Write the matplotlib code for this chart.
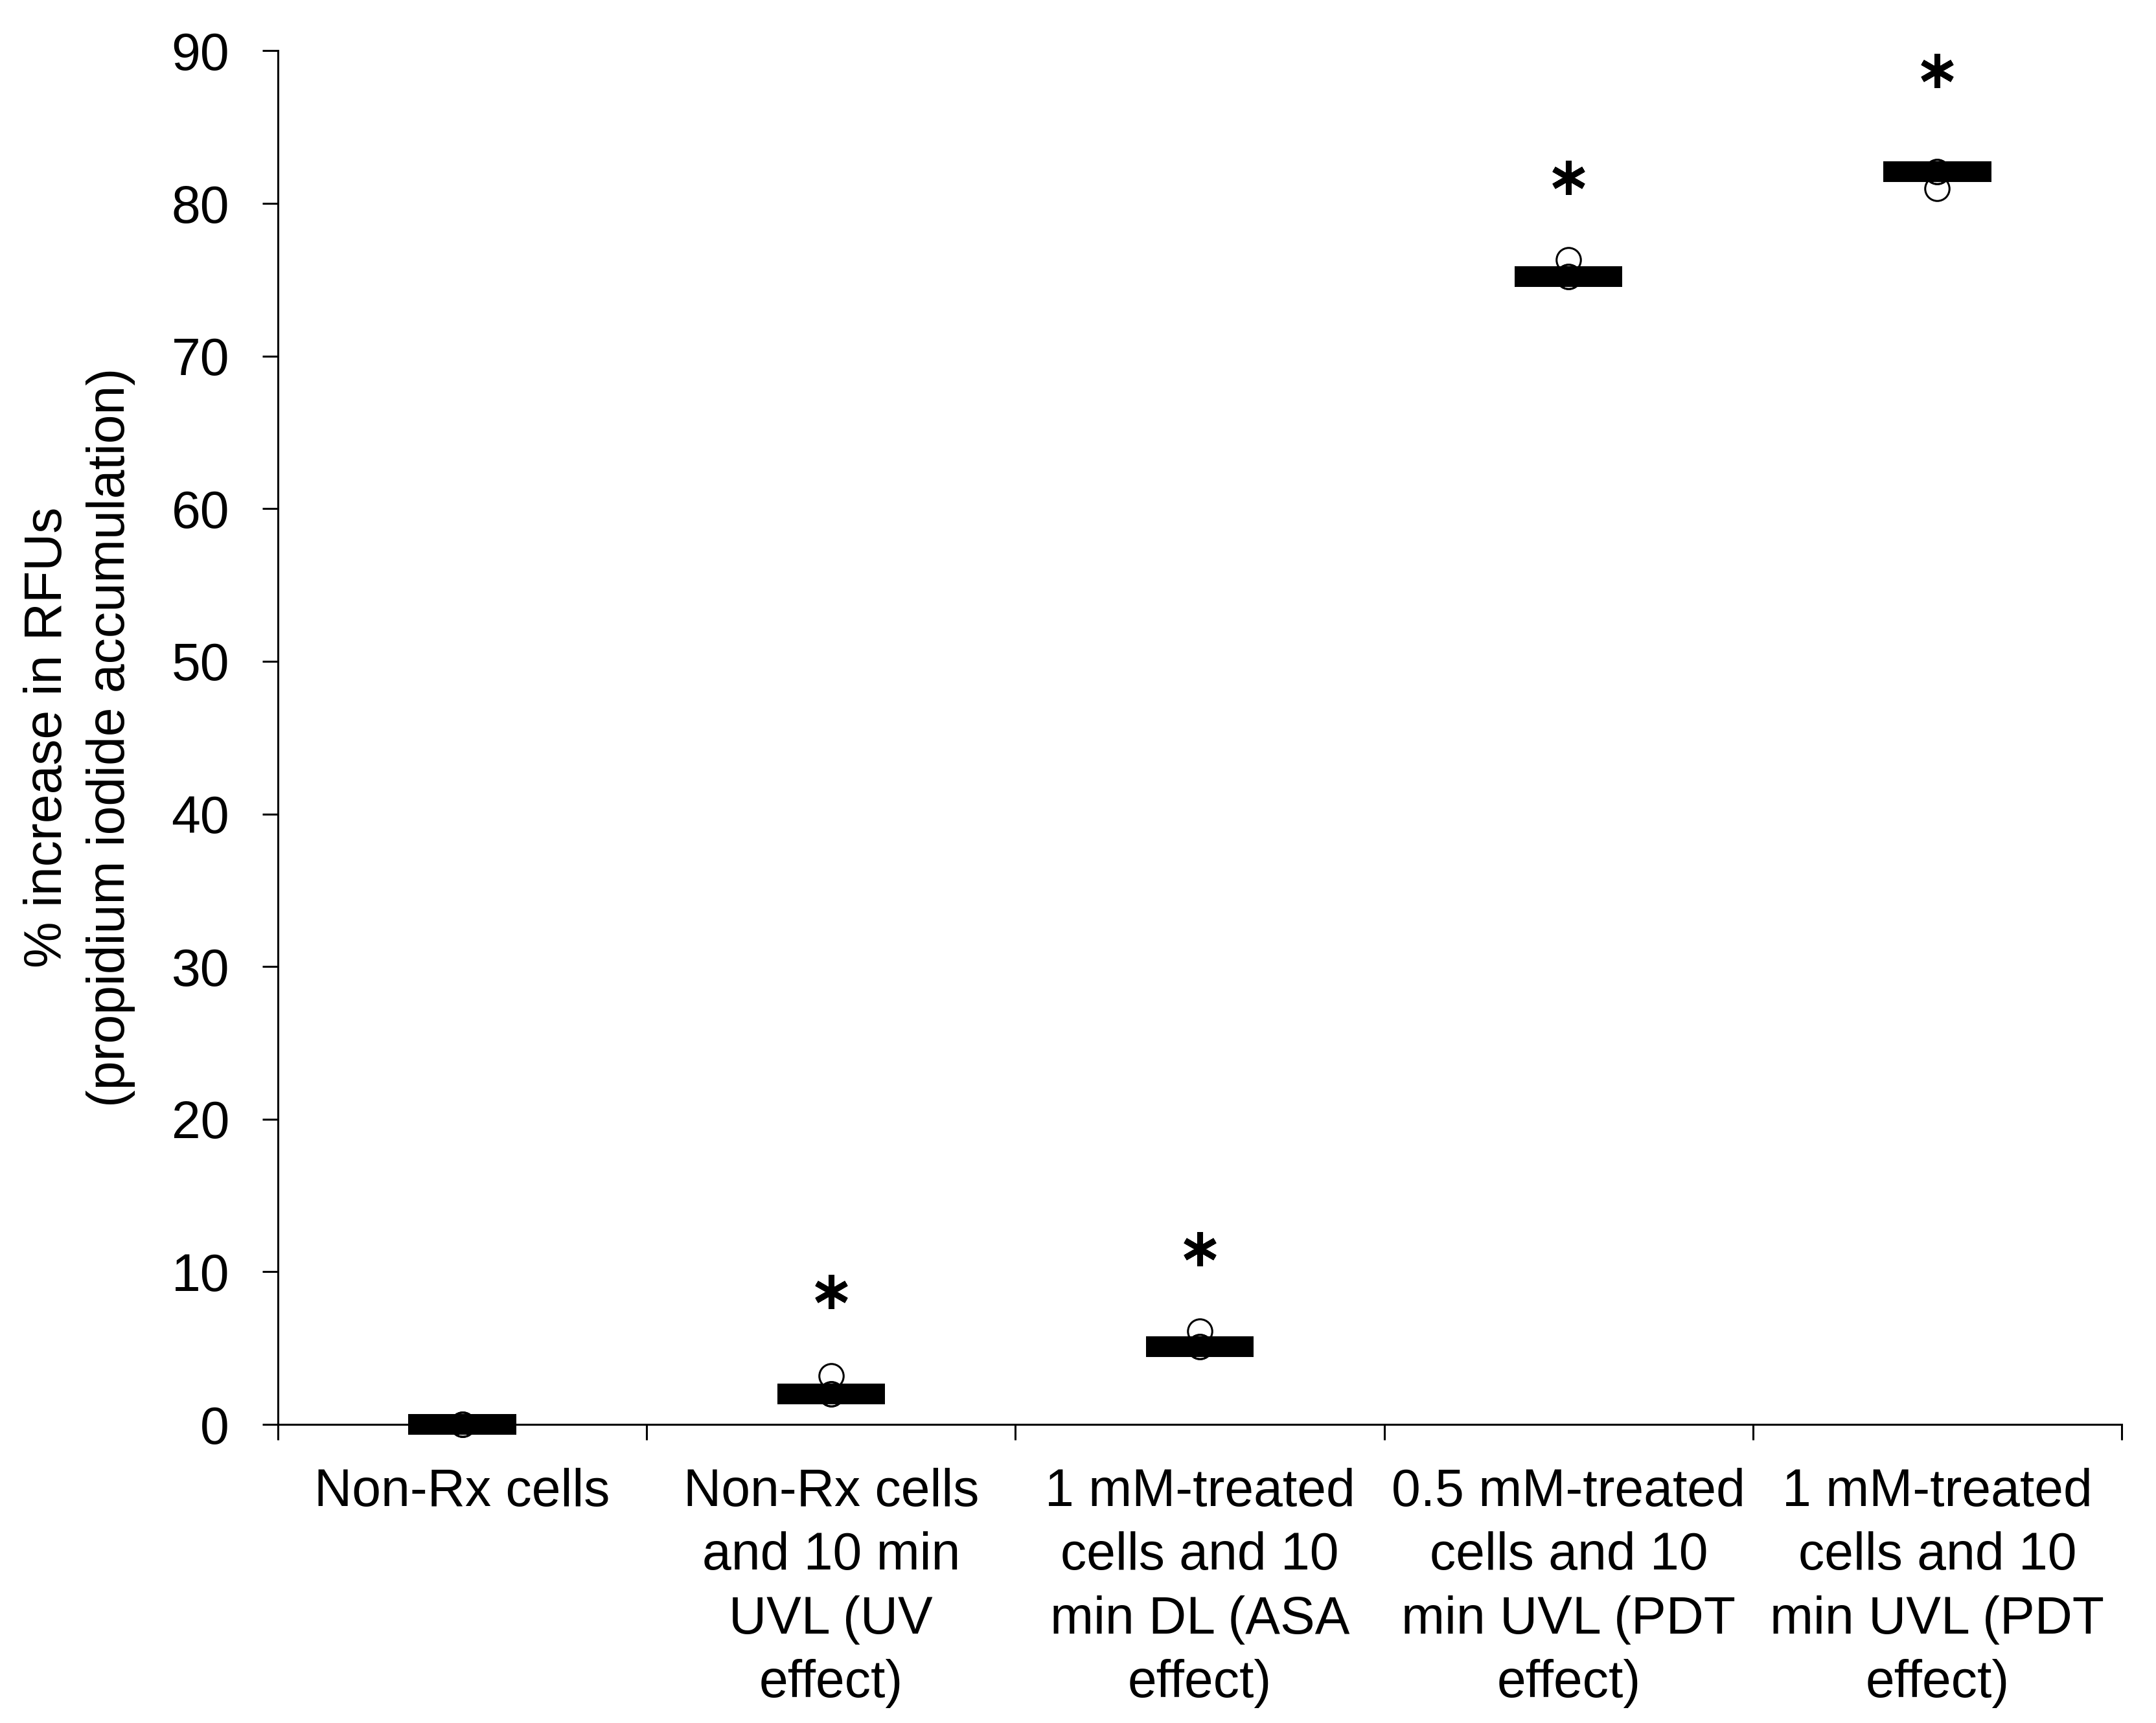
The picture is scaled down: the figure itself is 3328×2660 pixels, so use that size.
import numpy as np
import matplotlib.pyplot as plt

plt.rcParams['font.family'] = ['Liberation Sans', 'DejaVu Sans']

# groups and values
groups = ['Non-Rx cells',
          'Non-Rx cells\nand 10 min\nUVL (UV\neffect)',
          '1 mM-treated\ncells and 10\nmin DL (ASA\neffect)',
          '0.5 mM-treated\ncells and 10\nmin UVL (PDT\neffect)',
          '1 mM-treated\ncells and 10\nmin UVL (PDT\neffect)']
medians = [0.0, 2.0, 5.1, 75.2, 82.1]
points = [[0.0, 0.0, 0.0],
          [2.0, 2.0, 3.2],
          [5.1, 5.1, 6.1],
          [75.2, 75.2, 76.3],
          [82.1, 82.1, 81.0]]
star_y = [None, 8.7, 11.5, 81.7, 88.7]
yticks = [0, 10, 20, 30, 40, 50, 60, 70, 80, 90]

fig = plt.figure(figsize=(33.28, 26.6), dpi=100)
ax = fig.add_axes([0.1289, 0.1733, 0.8552, 0.7972])

xc = np.arange(len(groups)) + 0.5
half = 0.146

for i in range(len(groups)):
    # thick median bar
    ax.plot([xc[i] - half, xc[i] + half], [medians[i], medians[i]],
            color='black', lw=23, solid_capstyle='butt', zorder=3,
            clip_on=False)
    # individual points as open circles
    ax.plot([xc[i]] * len(points[i]), points[i], 'o', ms=27,
            mfc='none', mec='black', mew=2.2, zorder=4, clip_on=False)
    if star_y[i] is not None:
        ax.plot(xc[i], star_y[i], marker=(6, 2, 0), ms=38, mew=6.5,
                color='black', zorder=4, clip_on=False)

ax.set_xlim(0, 5)
ax.set_ylim(0, 90)
ax.set_yticks(yticks)
ax.set_xticks(np.arange(0, 6))
ax.set_xticklabels([])
ax.set_xticks(xc, minor=True)
ax.set_xticklabels(groups, minor=True, linespacing=1.38)

ax.tick_params(axis='both', which='major', length=17, width=2.2,
               direction='out', labelsize=58, color='black')
ax.tick_params(axis='y', pad=37)
ax.tick_params(axis='x', which='minor', length=0, pad=48, labelsize=58)

for s in ['top', 'right']:
    ax.spines[s].set_visible(False)
for s in ['left', 'bottom']:
    ax.spines[s].set_linewidth(2.2)

ax.set_ylabel('% increase in RFUs\n(propidium iodide accumulation)',
              fontsize=58, linespacing=1.35, labelpad=40)

fig.savefig('out.png', dpi=100, facecolor='white')
